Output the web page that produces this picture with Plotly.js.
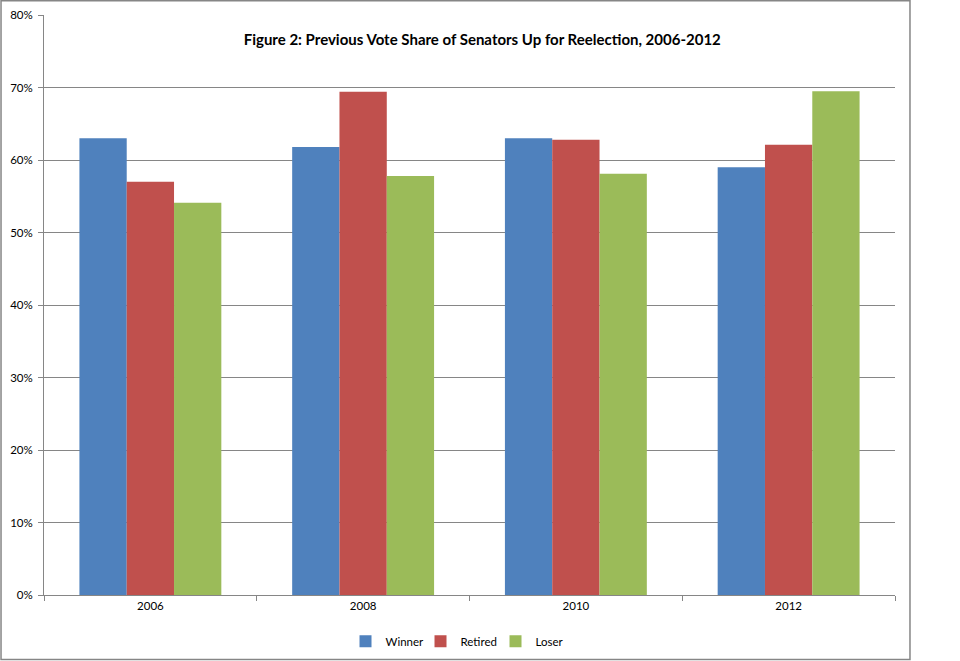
<!DOCTYPE html>
<html><head><meta charset="utf-8">
<script src="https://cdn.plot.ly/plotly-3.0.1.min.js"></script>
<style>html,body{margin:0;padding:0;background:#fff}#chart{width:960px;height:661px}</style>
</head><body><div id="chart"></div>
<script>
const years = ['2006','2008','2010','2012'];
const winner = [0.630, 0.618, 0.630, 0.590];
const retired = [0.570, 0.694, 0.628, 0.621];
const loser = [0.541, 0.578, 0.581, 0.695];
const yTicks = [0,0.1,0.2,0.3,0.4,0.5,0.6,0.7,0.8];
const yTickText = ['0%','10%','20%','30%','40%','50%','60%','70%','80%'];
const seriesNames = ['Winner','Retired','Loser'];
const colors = ['#4F81BD','#C0504D','#9BBB59'];
const vals = [winner, retired, loser];
const traces = vals.map((v,i)=>({type:'bar', x:years, y:v, name:seriesNames[i], marker:{color:colors[i]}}));
const font = {family:'Lato, "Open Sans", sans-serif', size:11.5, color:'#000'};
const layout = {
  width:960, height:661,
  margin:{l:44, r:65, t:15, b:66, autoexpand:false},
  paper_bgcolor:'#fff', plot_bgcolor:'#fff',
  font:font,
  barmode:'group', bargap:0.333, bargroupgap:0,
  title:{text:'<b>Figure 2: Previous Vote Share of Senators Up for Reelection, 2006-2012</b>', font:{family:'Lato, "Open Sans", sans-serif', size:15, color:'#000'}, x:0.515, xref:'paper', y:0.94, yref:'container', xanchor:'center', yanchor:'middle'},
  xaxis:{type:'category', showline:true, linecolor:'#868686', linewidth:1, ticks:'outside', tickson:'boundaries', ticklen:5, tickcolor:'#868686', showgrid:false, tickfont:font, fixedrange:true, automargin:false},
  yaxis:{range:[0,0.8], tickvals:yTicks, ticktext:yTickText, showline:true, linecolor:'#868686', linewidth:1, ticks:'outside', ticklen:5, tickcolor:'#868686', showgrid:true, gridcolor:'#868686', gridwidth:1, zeroline:false, tickfont:font, ticklabelstandoff:3, automargin:false},
  legend:{orientation:'h', x:0.4865, xanchor:'center', xref:'paper', y:0.030, yref:'container', yanchor:'middle', font:{family:'Lato, "Open Sans", sans-serif', size:11.5, color:'#000'}, itemwidth:30, entrywidth:30, entrywidthmode:'pixels', bgcolor:'rgba(0,0,0,0)', traceorder:'normal'},
  showlegend:true,
  shapes:[{type:'rect', xref:'paper', yref:'paper', x0:-0.0505, x1:1.0176, y0:-0.111, y1:1.0245, line:{color:'#868686', width:1.5}, fillcolor:'rgba(0,0,0,0)', layer:'below'}]
};
Plotly.newPlot('chart', traces, layout, {displayModeBar:false, staticPlot:true});
</script></body></html>
